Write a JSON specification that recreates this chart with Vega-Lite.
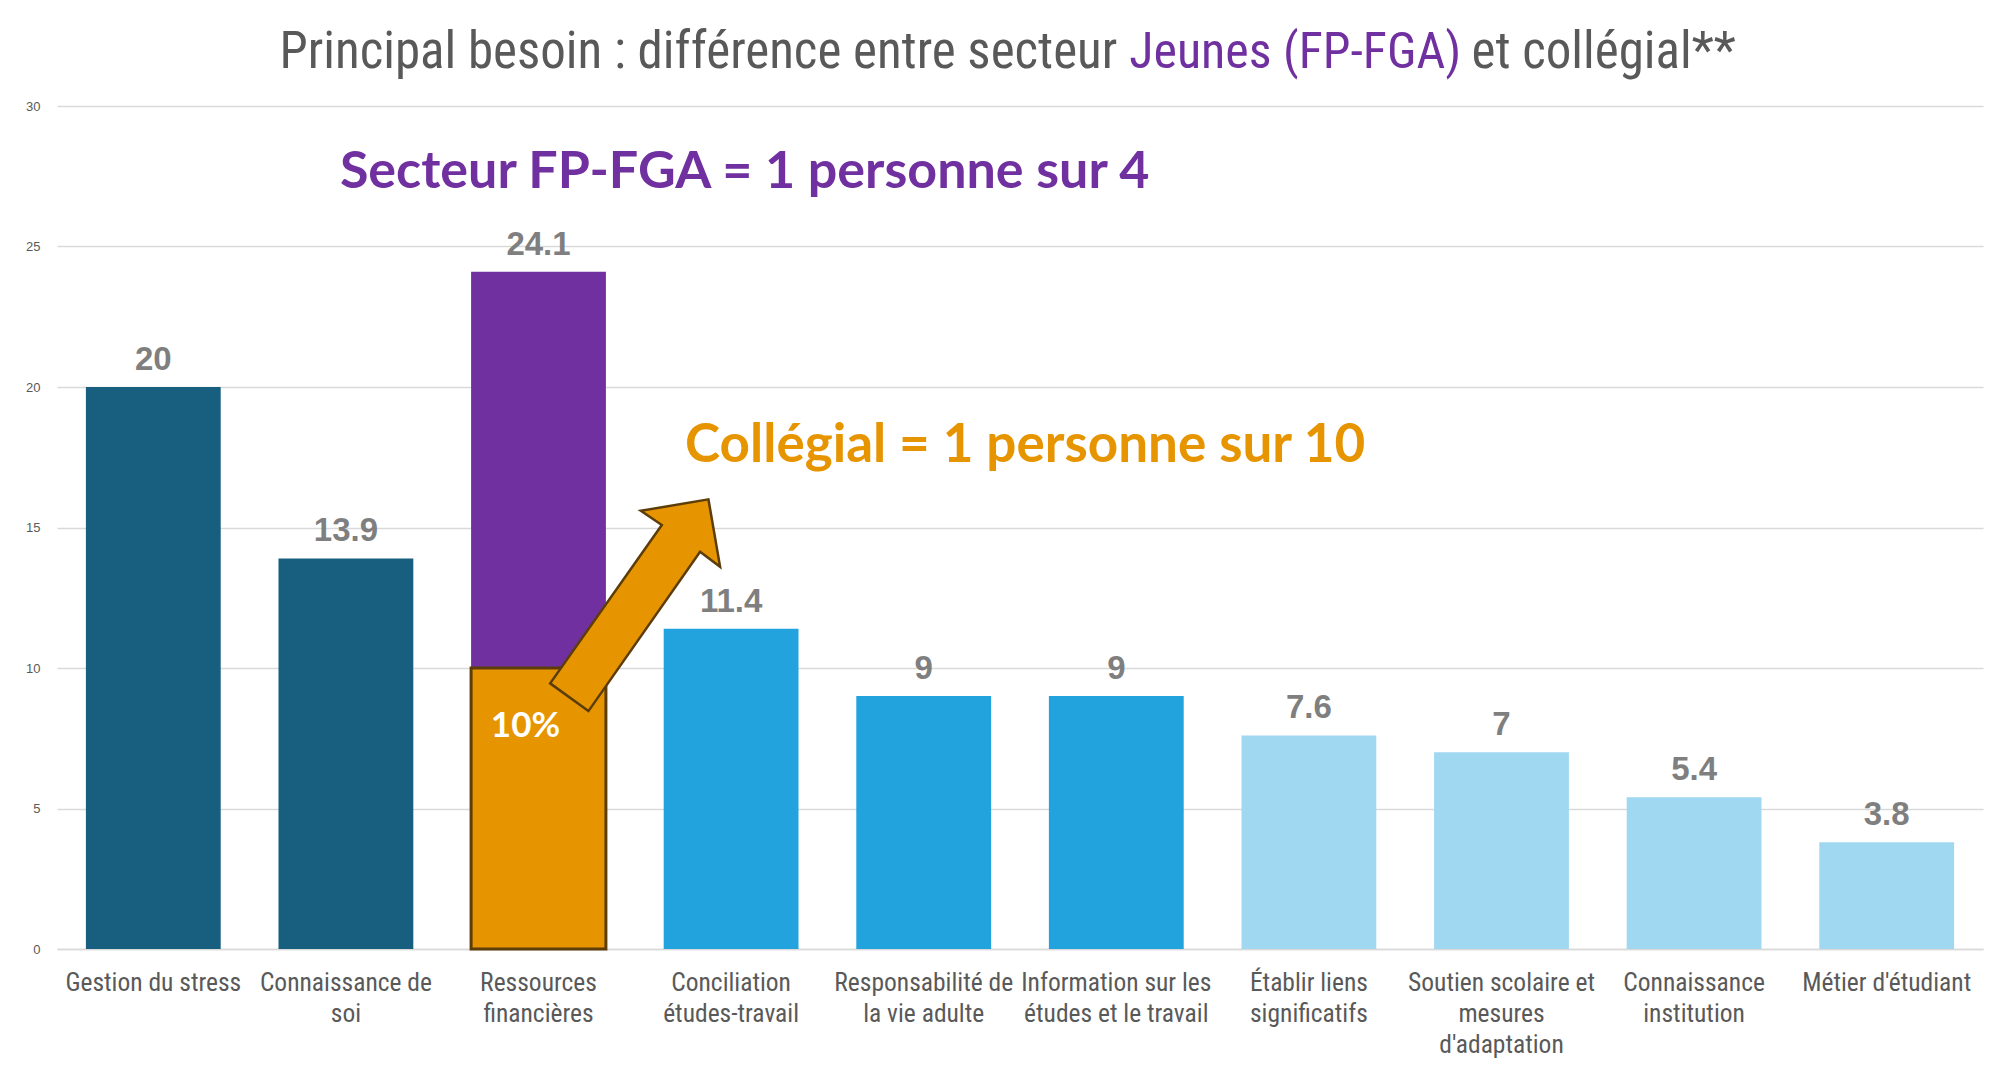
{
  "$schema": "https://vega.github.io/schema/vega-lite/v6.json",
  "autosize": {"type": "none"},
  "width": 1926,
  "height": 843,
  "padding": {"left": 57, "top": 106, "right": 17, "bottom": 117},
  "background": "white",
  "config": {"view": {"stroke": null}},
  "datasets": {
    "besoins": [
      {"besoin": "Gestion du stress", "valeur": 20, "groupe": "fort"},
      {"besoin": "Connaissance de soi", "valeur": 13.9, "groupe": "fort"},
      {"besoin": "Ressources financières", "valeur": 24.1, "groupe": "jeunes"},
      {"besoin": "Conciliation études-travail", "valeur": 11.4, "groupe": "moyen"},
      {"besoin": "Responsabilité de la vie adulte", "valeur": 9, "groupe": "moyen"},
      {"besoin": "Information sur les études et le travail", "valeur": 9, "groupe": "moyen"},
      {"besoin": "Établir liens significatifs", "valeur": 7.6, "groupe": "faible"},
      {"besoin": "Soutien scolaire et mesures d'adaptation", "valeur": 7, "groupe": "faible"},
      {"besoin": "Connaissance institution", "valeur": 5.4, "groupe": "faible"},
      {"besoin": "Métier d'étudiant", "valeur": 3.8, "groupe": "faible"}
    ],
    "collegial": [
      {"besoin": "Ressources financières", "valeur": 10, "etiquette": "10%"}
    ]
  },
  "layer": [
    {
      "data": {"name": "besoins"},
      "mark": {"type": "bar"},
      "encoding": {
        "x": {
          "field": "besoin", "type": "nominal", "sort": null,
          "scale": {
            "domain": ["Gestion du stress", "Connaissance de soi", "Ressources financières", "Conciliation études-travail", "Responsabilité de la vie adulte", "Information sur les études et le travail", "Établir liens significatifs", "Soutien scolaire et mesures d'adaptation", "Connaissance institution", "Métier d'étudiant"],
            "paddingInner": 0.3, "paddingOuter": 0.15
          },
          "axis": {
            "title": null, "labelAngle": 0, "ticks": false,
            "domainColor": "#D9D9D9", "domainWidth": 1.5,
            "labelFont": "Liberation Sans Narrow, Roboto Condensed, Liberation Sans, sans-serif",
            "labelFontSize": 25.5, "labelColor": "#595959", "labelLineHeight": 31,
            "labelPadding": 21, "labelBaseline": "top",
            "labelExpr": "{'Connaissance de soi': ['Connaissance de', 'soi'], 'Ressources financières': ['Ressources', 'financières'], 'Conciliation études-travail': ['Conciliation', 'études-travail'], 'Responsabilité de la vie adulte': ['Responsabilité de', 'la vie adulte'], 'Information sur les études et le travail': ['Information sur les', 'études et le travail'], 'Établir liens significatifs': ['Établir liens', 'significatifs'], 'Soutien scolaire et mesures d\\'adaptation': ['Soutien scolaire et', 'mesures', 'd\\'adaptation'], 'Connaissance institution': ['Connaissance', 'institution']}[datum.label] || datum.label",
            "labelOverlap": false, "labelLimit": 300
          }
        },
        "y": {
          "field": "valeur", "type": "quantitative",
          "scale": {"domain": [0, 30], "nice": false},
          "axis": {
            "title": null, "values": [0, 5, 10, 15, 20, 25, 30],
            "domain": false, "ticks": false,
            "gridColor": "#D9D9D9", "gridWidth": 1.5,
            "labelFont": "Liberation Sans, sans-serif", "labelFontSize": 13,
            "labelColor": "#595959", "labelPadding": 17
          }
        },
        "color": {
          "field": "groupe", "type": "nominal", "legend": null,
          "scale": {"domain": ["fort", "jeunes", "moyen", "faible"], "range": ["#175E7F", "#7030A0", "#22A3DD", "#A1D8F1"]}
        }
      }
    },
    {
      "data": {"name": "collegial"},
      "mark": {"type": "bar", "fill": "#E69500", "stroke": "#5C3D0A", "strokeWidth": 3},
      "encoding": {
        "x": {"field": "besoin", "type": "nominal"},
        "y": {"field": "valeur", "type": "quantitative"}
      }
    },
    {
      "data": {"name": "besoins"},
      "mark": {"type": "text", "font": "Liberation Sans, sans-serif", "fontWeight": "bold", "fontSize": 33, "color": "#7F7F7F", "baseline": "alphabetic", "dy": -17},
      "encoding": {
        "x": {"field": "besoin", "type": "nominal"},
        "y": {"field": "valeur", "type": "quantitative"},
        "text": {"field": "valeur", "type": "quantitative", "format": ""}
      }
    },
    {
      "data": {"name": "collegial"},
      "mark": {"type": "point", "filled": true, "fill": "#E69500", "stroke": "#5C3D0A", "strokeWidth": 2.5, "opacity": 1, "size": 48400,
        "shape": "M -1.645 0.712 L -1.297 0.964 L -0.282 -0.485 L -0.1 -0.348 L -0.206 -0.961 L -0.821 -0.857 L -0.63 -0.727 Z"},
      "encoding": {
        "x": {"datum": "Conciliation études-travail", "type": "nominal"},
        "y": {"datum": 12.24, "type": "quantitative"}
      }
    },
    {
      "data": {"name": "collegial"},
      "mark": {"type": "text", "font": "Lato, sans-serif", "fontWeight": "bold", "fontSize": 35, "color": "white", "align": "center", "baseline": "middle", "dx": -13},
      "encoding": {
        "x": {"field": "besoin", "type": "nominal"},
        "y": {"datum": 7.95, "type": "quantitative"},
        "text": {"field": "etiquette"}
      }
    },
    {
      "data": {"values": [{}]},
      "mark": {"type": "text", "font": "Lato, sans-serif", "fontWeight": "bold", "fontSize": 52, "color": "#7030A0", "align": "left", "baseline": "middle", "dx": -6},
      "encoding": {
        "x": {"datum": "Connaissance de soi", "type": "nominal"},
        "y": {"datum": 27.65, "type": "quantitative"},
        "text": {"value": "Secteur FP-FGA = 1 personne sur 4"}
      }
    },
    {
      "data": {"values": [{}]},
      "mark": {"type": "text", "font": "Lato, sans-serif", "fontWeight": "bold", "fontSize": 53, "color": "#E69500", "align": "left", "baseline": "middle", "dx": -46},
      "encoding": {
        "x": {"datum": "Conciliation études-travail", "type": "nominal"},
        "y": {"datum": 17.9, "type": "quantitative"},
        "text": {"value": "Collégial = 1 personne sur 10"}
      }
    },
    {
      "data": {"values": [{}]},
      "mark": {"type": "text", "font": "Liberation Sans Narrow, Roboto Condensed, Liberation Sans, sans-serif", "fontSize": 51, "color": "#595959", "align": "right", "baseline": "middle", "dx": 1},
      "encoding": {
        "x": {"datum": "Information sur les études et le travail", "type": "nominal"},
        "y": {"datum": 31.88, "type": "quantitative"},
        "text": {"value": "Principal besoin : différence entre secteur"}
      }
    },
    {
      "data": {"values": [{}]},
      "mark": {"type": "text", "font": "Liberation Sans Narrow, Roboto Condensed, Liberation Sans, sans-serif", "fontSize": 50, "color": "#7030A0", "align": "left", "baseline": "middle", "dx": 13},
      "encoding": {
        "x": {"datum": "Information sur les études et le travail", "type": "nominal"},
        "y": {"datum": 31.88, "type": "quantitative"},
        "text": {"value": "Jeunes (FP-FGA)"}
      }
    },
    {
      "data": {"values": [{}]},
      "mark": {"type": "text", "font": "Liberation Sans Narrow, Roboto Condensed, Liberation Sans, sans-serif", "fontSize": 51, "color": "#595959", "align": "left", "baseline": "middle", "dx": -30},
      "encoding": {
        "x": {"datum": "Soutien scolaire et mesures d'adaptation", "type": "nominal"},
        "y": {"datum": 31.88, "type": "quantitative"},
        "text": {"value": "et collégial**"}
      }
    }
  ]
}
